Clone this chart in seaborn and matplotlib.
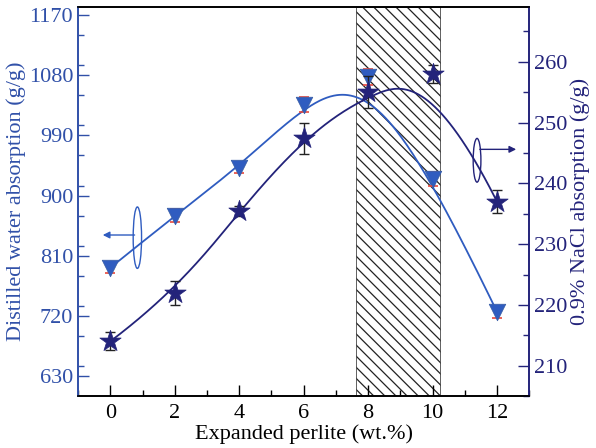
import matplotlib
matplotlib.use("Agg")
import matplotlib.pyplot as plt
from matplotlib.patches import Ellipse
import numpy as np
import pandas as pd
import seaborn as sns

# data
loading = [0, 2, 4, 6, 8, 10, 12]
water = [792, 870, 942, 1036, 1078, 925, 726]
water_err = [8, 10, 8, 11, 12, 10, 9]
nacl = [214.0, 222.0, 235.5, 247.4, 255.0, 258.0, 237.0]
nacl_err = [1.5, 2.0, 0.8, 2.6, 2.6, 1.5, 1.9]

left_ticks = [630, 720, 810, 900, 990, 1080, 1170]
right_ticks = [210, 220, 230, 240, 250, 260]

BLUE = "#3050a8"
NAVY = "#23237a"
TRI = "#2f5cc0"


def bspline(xs, ys, n=300, p=3):
    # clamped cubic B-spline using the data points as control points
    ctrl = np.column_stack([xs, ys]).astype(float)
    m = len(ctrl)
    knots = np.concatenate([np.zeros(p), np.linspace(0, 1, m - p + 1), np.ones(p)])
    u = np.linspace(0, 1, n)
    N = np.zeros((n, len(knots) - 1))
    for i in range(len(knots) - 1):
        N[:, i] = (u >= knots[i]) & (u < knots[i + 1])
    N[-1, m - 1] = 1.0
    for k in range(1, p + 1):
        Nk = np.zeros((n, len(knots) - 1 - k))
        for i in range(len(knots) - 1 - k):
            d1 = knots[i + k] - knots[i]
            d2 = knots[i + k + 1] - knots[i + 1]
            a = (u - knots[i]) / d1 * N[:, i] if d1 > 0 else 0
            b = (knots[i + k + 1] - u) / d2 * N[:, i + 1] if d2 > 0 else 0
            Nk[:, i] = a + b
        N = Nk
    pts = N @ ctrl
    return pd.DataFrame({"x": pts[:, 0], "y": pts[:, 1]})


df = pd.DataFrame({"loading": loading, "water": water, "nacl": nacl})
water_curve = bspline(loading, water)
nacl_curve = bspline(loading, nacl)

sns.set_theme(style="white")
plt.rcParams.update({
    "font.family": ["Liberation Serif", "DejaVu Serif"],
    "font.size": 16,
    "axes.labelsize": 16,
    "xtick.labelsize": 16,
    "ytick.labelsize": 16,
    "hatch.linewidth": 0.9,
})

fig = plt.figure(figsize=(5.96, 4.48), dpi=100)
ax = fig.add_axes([0.131, 0.116, 0.757, 0.868])
ax2 = ax.twinx()

# optimum region
ax.axvspan(7.63, 10.23, facecolor="white", edgecolor="#222222",
           hatch="\\\\\\", linewidth=0.5, zorder=0)

# smoothed connecting curves
sns.lineplot(data=water_curve, x="x", y="y", sort=False, estimator=None,
             color=TRI, lw=1.3, ax=ax)
sns.lineplot(data=nacl_curve, x="x", y="y", sort=False, estimator=None,
             color=NAVY, lw=1.3, ax=ax2)

# error bars + markers
ax.errorbar(loading, water, yerr=water_err, fmt="none", ecolor="#e8483c",
            elinewidth=1.0, capsize=3.5, capthick=1.2, zorder=3)
sns.scatterplot(data=df, x="loading", y="water", marker="v", s=140,
                color=TRI, edgecolor="#3a5fa8", linewidth=0.6, ax=ax, zorder=4)
ax2.errorbar(loading, nacl, yerr=nacl_err, fmt="none", ecolor="#222222",
             elinewidth=1.0, capsize=3.5, capthick=1.0, zorder=3)
sns.scatterplot(data=df, x="loading", y="nacl", marker="*", s=260,
                color=NAVY, edgecolor=NAVY, linewidth=0.5, ax=ax2, zorder=4)

# limits and ticks
ax.set_xlim(-1, 13)
ax.set_ylim(600, 1182)
ax2.set_ylim(205, 269)
ax.set_xticks(loading)
ax.set_xticks(np.arange(-1, 13.5, 1), minor=True)
ax.set_yticks(left_ticks)
ax.set_yticks(np.arange(645, 1182, 45), minor=True)
ax2.set_yticks(right_ticks)
ax2.set_yticks(np.arange(205, 270, 5), minor=True)

ax.set_xlabel("Expanded perlite (wt.%)", color="black", labelpad=1)
ax.set_ylabel("Distilled water absorption (g/g)", color=BLUE, labelpad=2)
ax2.set_ylabel("0.9% NaCl absorption (g/g)", color=NAVY, labelpad=2)

ax.tick_params(axis="x", which="both", direction="in", top=False, bottom=True,
               colors="black", pad=6)
ax.tick_params(axis="x", which="major", length=8, width=1.0)
ax.tick_params(axis="x", which="minor", length=4, width=1.0)
ax.tick_params(axis="y", which="both", direction="in", left=True, right=False,
               colors=BLUE)
ax.tick_params(axis="y", which="major", length=8, width=1.0)
ax.tick_params(axis="y", which="minor", length=4, width=1.0)
ax2.tick_params(axis="y", which="both", direction="in", right=True, left=False,
                colors=NAVY)
ax2.tick_params(axis="y", which="major", length=8, width=1.0)
ax2.tick_params(axis="y", which="minor", length=4, width=1.0)

for a in (ax, ax2):
    a.spines["top"].set_color("black")
    a.spines["bottom"].set_color("black")
    a.spines["left"].set_color(BLUE)
    a.spines["right"].set_color(NAVY)
    for s in a.spines.values():
        s.set_linewidth(1.2)
    a.grid(False)

# series markers: ellipse + arrow
ax.add_patch(Ellipse((0.84, 837), 0.26, 92, fill=False, edgecolor=TRI, lw=1.0))
ax.annotate("", xy=(-0.32, 841), xytext=(0.84, 841),
            arrowprops=dict(arrowstyle="-|>", color=TRI, lw=1.0, mutation_scale=10))
ax2.add_patch(Ellipse((11.38, 243.8), 0.24, 7.2, fill=False, edgecolor=NAVY, lw=1.0))
ax2.annotate("", xy=(12.68, 245.6), xytext=(11.38, 245.6),
             arrowprops=dict(arrowstyle="-|>", color=NAVY, lw=1.0, mutation_scale=10))

fig.savefig("out.png", dpi=100)
